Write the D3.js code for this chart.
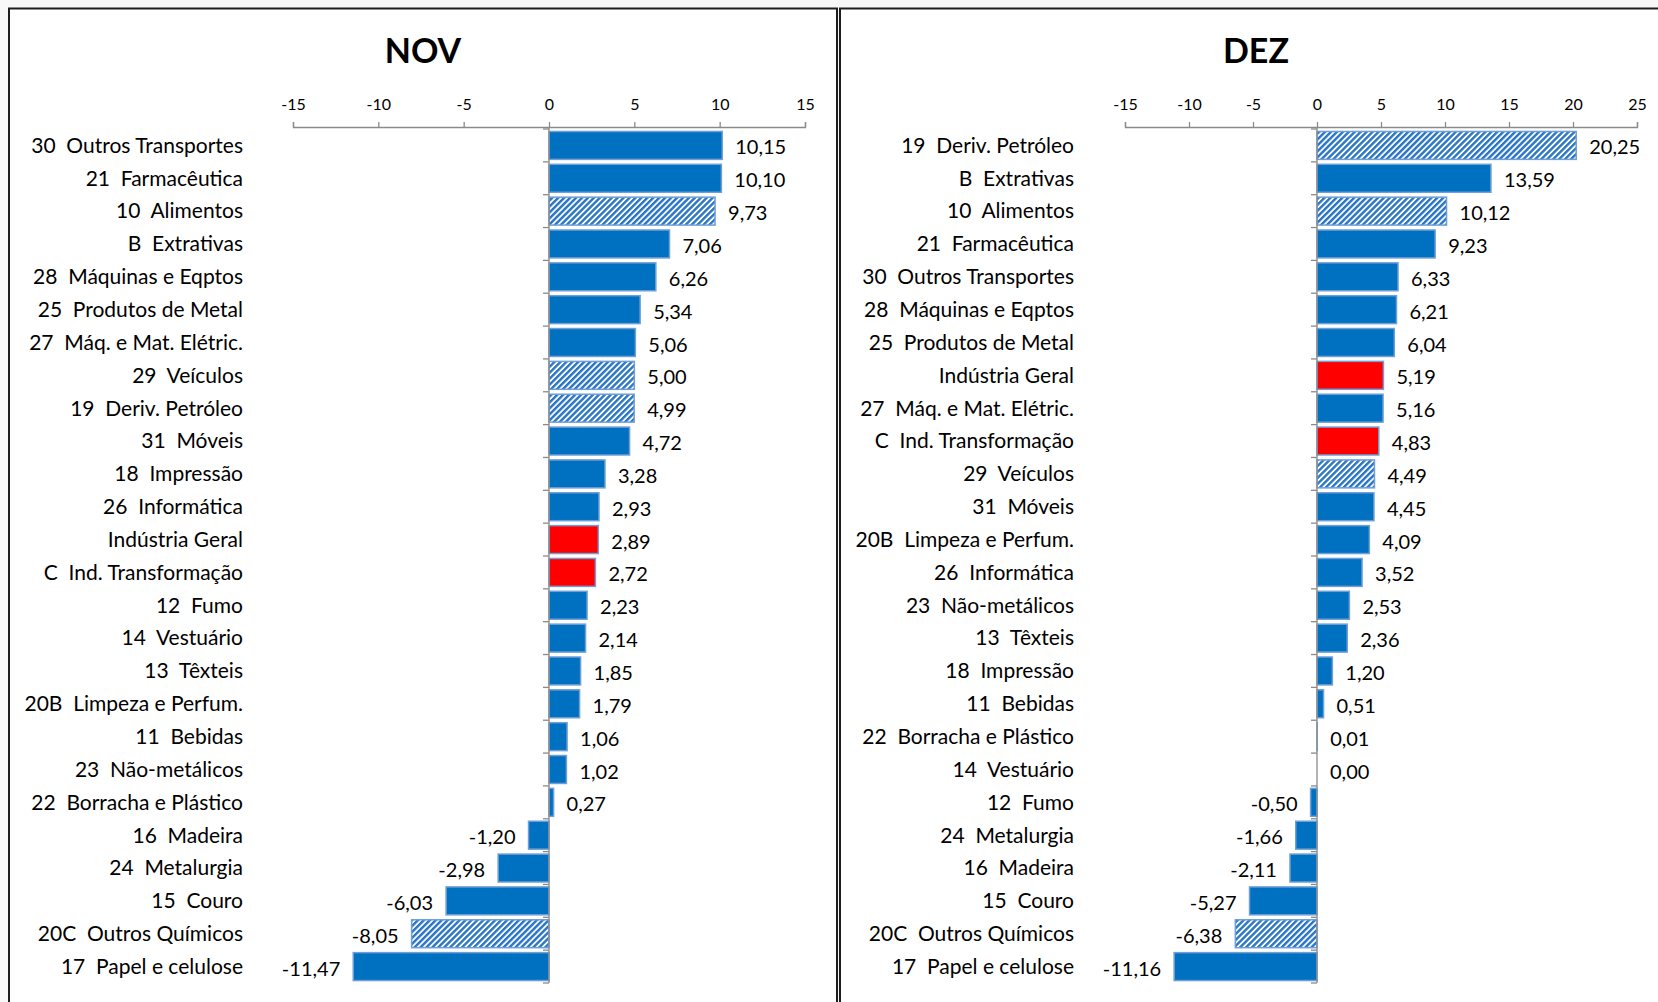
<!DOCTYPE html>
<html>
<head>
<meta charset="utf-8">
<script src="https://cdn.jsdelivr.net/npm/d3@7"></script>
<style>
    html, body { margin: 0; padding: 0; background: #f8f8f8; }
    svg { display: block; font-family: Lato, "Open Sans", sans-serif; }
    .cat { white-space: pre; }
</style>
</head>
<body>
<div id="chart"></div>
<script>
// NOV
const novCategories = [
    "30  Outros Transportes", "21  Farmacêutica", "10  Alimentos", "B  Extrativas",
    "28  Máquinas e Eqptos", "25  Produtos de Metal", "27  Máq. e Mat. Elétric.",
    "29  Veículos", "19  Deriv. Petróleo", "31  Móveis", "18  Impressão",
    "26  Informática", "Indústria Geral", "C  Ind. Transformação", "12  Fumo",
    "14  Vestuário", "13  Têxteis", "20B  Limpeza e Perfum.", "11  Bebidas",
    "23  Não-metálicos", "22  Borracha e Plástico", "16  Madeira", "24  Metalurgia",
    "15  Couro", "20C  Outros Químicos", "17  Papel e celulose"
];
const novValues = [
    10.15, 10.10, 9.73, 7.06, 6.26, 5.34, 5.06, 5.00, 4.99, 4.72, 3.28, 2.93, 2.89,
    2.72, 2.23, 2.14, 1.85, 1.79, 1.06, 1.02, 0.27, -1.20, -2.98, -6.03, -8.05, -11.47
];
const novTicks = [-15, -10, -5, 0, 5, 10, 15];

// DEZ
const dezCategories = [
    "19  Deriv. Petróleo", "B  Extrativas", "10  Alimentos", "21  Farmacêutica",
    "30  Outros Transportes", "28  Máquinas e Eqptos", "25  Produtos de Metal",
    "Indústria Geral", "27  Máq. e Mat. Elétric.", "C  Ind. Transformação",
    "29  Veículos", "31  Móveis", "20B  Limpeza e Perfum.", "26  Informática",
    "23  Não-metálicos", "13  Têxteis", "18  Impressão", "11  Bebidas",
    "22  Borracha e Plástico", "14  Vestuário", "12  Fumo", "24  Metalurgia",
    "16  Madeira", "15  Couro", "20C  Outros Químicos", "17  Papel e celulose"
];
const dezValues = [
    20.25, 13.59, 10.12, 9.23, 6.33, 6.21, 6.04, 5.19, 5.16, 4.83, 4.49, 4.45, 4.09,
    3.52, 2.53, 2.36, 1.20, 0.51, 0.01, 0.00, -0.50, -1.66, -2.11, -5.27, -6.38, -11.16
];
const dezTicks = [-15, -10, -5, 0, 5, 10, 15, 20, 25];

// categories drawn in red (aggregates) and with the hatch pattern
const totalCategories = ["Indústria Geral", "C  Ind. Transformação"];
const hatchedCategories = ["10  Alimentos", "29  Veículos", "19  Deriv. Petróleo", "20C  Outros Químicos"];

const W = 1658, H = 1002;
const fmt = v => v.toFixed(2).replace(".", ",");

let svg = d3.select("#chart")
    .append("svg")
    .attr("width", W)
    .attr("height", H);

svg.append("rect").attr("width", W).attr("height", H).attr("fill", "#f8f8f8");

// hatch pattern (wide upward diagonal)
let defs = svg.append("defs");
let pat = defs.append("pattern")
    .attr("id", "hatch")
    .attr("patternUnits", "userSpaceOnUse")
    .attr("width", 4.2)
    .attr("height", 10)
    .attr("patternTransform", "rotate(45)");
pat.append("rect").attr("width", 4.2).attr("height", 10).attr("fill", "white");
pat.append("rect").attr("width", 2.4).attr("height", 10).attr("fill", "#2a76c6");

function drawPanel(opts) {
    let g = svg.append("g");

    // panel frame
    g.append("rect")
        .attr("x", opts.left)
        .attr("y", 8.5)
        .attr("width", opts.right - opts.left)
        .attr("height", 1100)
        .attr("fill", "white")
        .attr("stroke", "#1e1e1e")
        .attr("stroke-width", 2);

    g.append("text")
        .attr("x", (opts.left + opts.right) / 2)
        .attr("y", 63)
        .attr("text-anchor", "middle")
        .attr("font-size", 34)
        .attr("font-weight", "bold")
        .text(opts.title);

    let x = d3.scaleLinear()
        .domain(d3.extent(opts.ticks))
        .range(opts.xRange);

    let y = d3.scaleBand()
        .domain(opts.categories)
        .range([129, 983])
        .paddingInner(0.15)
        .paddingOuter(0.075);

    // top axis
    let ax = g.append("g")
        .attr("transform", "translate(0,127)")
        .call(d3.axisTop(x).tickValues(opts.ticks).tickFormat(d => String(d))
            .tickSize(5).tickPadding(12));
    ax.selectAll("path, line").attr("stroke", "#8a8a8a").attr("stroke-width", 1.3);
    ax.selectAll("text")
        .attr("font-family", "Lato, sans-serif")
        .attr("font-size", 16)
        .attr("fill", "#000");

    let data = opts.categories.map((c, i) => ({cat: c, v: opts.values[i]}));
    let step = y.step();

    // bars
    g.append("g")
        .selectAll("rect")
        .data(data)
        .enter()
        .append("rect")
        .attr("x", d => x(Math.min(0, d.v)))
        .attr("y", d => y(d.cat))
        .attr("width", d => Math.abs(x(d.v) - x(0)))
        .attr("height", y.bandwidth())
        .attr("fill", d => totalCategories.includes(d.cat) ? "#ff0000"
            : hatchedCategories.includes(d.cat) ? "url(#hatch)" : "#0070c0")
        .attr("stroke", d => Math.abs(d.v) < 0.005 ? "none" : "#6f9fd6")
        .attr("stroke-width", 1.5);

    // vertical category axis at zero
    let yAxis = g.append("g").attr("stroke", "#8a8a8a").attr("stroke-width", 1.3);
    yAxis.append("line")
        .attr("x1", x(0)).attr("x2", x(0))
        .attr("y1", 127).attr("y2", y.range()[1]);
    yAxis.selectAll("line.tk")
        .data(data.concat([null]))
        .enter()
        .append("line")
        .attr("class", "tk")
        .attr("x1", x(0) - 6).attr("x2", x(0))
        .attr("y1", (d, i) => y.range()[0] + i * step)
        .attr("y2", (d, i) => y.range()[0] + i * step);

    // category labels
    g.append("g")
        .selectAll("text")
        .data(data)
        .enter()
        .append("text")
        .attr("class", "cat")
        .attr("x", opts.labelX)
        .attr("y", d => y(d.cat) + y.bandwidth() / 2)
        .attr("dy", "0.35em")
        .attr("text-anchor", "end")
        .attr("font-size", 21)
        .text(d => d.cat);

    // value labels
    g.append("g")
        .selectAll("text")
        .data(data)
        .enter()
        .append("text")
        .attr("x", d => d.v >= 0 ? x(d.v) + 13 : x(d.v) - 13)
        .attr("y", d => y(d.cat) + y.bandwidth() / 2 + 2)
        .attr("dy", "0.35em")
        .attr("text-anchor", d => d.v >= 0 ? "start" : "end")
        .attr("font-size", 20)
        .text(d => fmt(d.v));
}

drawPanel({
    title: "NOV", left: 9, right: 837,
    categories: novCategories, values: novValues, ticks: novTicks,
    xRange: [293, 805], labelX: 243
});

drawPanel({
    title: "DEZ", left: 840, right: 1672,
    categories: dezCategories, values: dezValues, ticks: dezTicks,
    xRange: [1125, 1637], labelX: 1074
});
</script>
</body>
</html>
